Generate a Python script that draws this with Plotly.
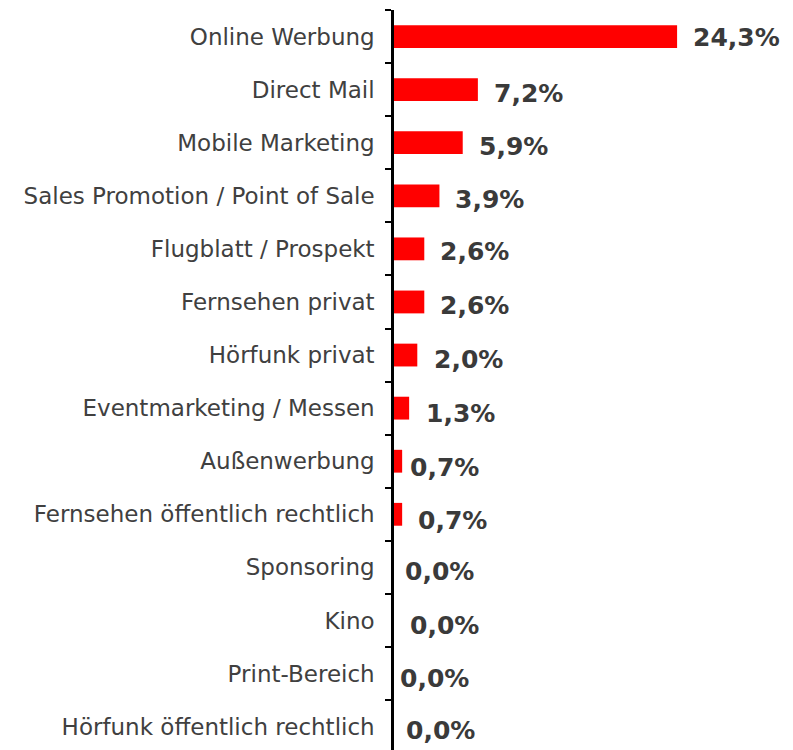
import plotly.graph_objects as go

categories = [
    "Online Werbung", "Direct Mail", "Mobile Marketing",
    "Sales Promotion / Point of Sale", "Flugblatt / Prospekt",
    "Fernsehen privat", "Hörfunk privat", "Eventmarketing / Messen",
    "Außenwerbung", "Fernsehen öffentlich rechtlich", "Sponsoring",
    "Kino", "Print-Bereich", "Hörfunk öffentlich rechtlich",
]
values = [24.3, 7.2, 5.9, 3.9, 2.6, 2.6, 2.0, 1.3, 0.7, 0.7, 0.0, 0.0, 0.0, 0.0]
value_labels = ["24,3%", "7,2%", "5,9%", "3,9%", "2,6%", "2,6%", "2,0%",
                "1,3%", "0,7%", "0,7%", "0,0%", "0,0%", "0,0%", "0,0%"]

# pixel nudges of the value labels (offset from bar end)
label_xshift = [14, 14, 14, 14, 14, 14, 15, 15, 6, 14, 9, 14, 4, 10]
label_yshift = [-1, -4, -4, -4, -3, -4, -4, -5, -6, -6, -4, -5, -5, -4]

fig = go.Figure()
fig.add_trace(go.Bar(
    x=values, y=categories, orientation="h",
    marker=dict(color="#ff0000", line=dict(width=0)),
    width=0.43, hoverinfo="skip",
))

for cat, v, lab, xs, ys in zip(categories, values, value_labels, label_xshift, label_yshift):
    fig.add_annotation(
        x=v, y=cat, text=lab, showarrow=False, xanchor="left", yanchor="middle",
        xshift=xs, yshift=ys,
        font=dict(family="DejaVu Sans", size=25, color="#3a3a3a", weight="bold"),
    )

# the page body adds an 8px offset, so the figure is sized 8px smaller
fig.update_layout(
    width=785, height=742,
    margin=dict(l=386, r=0, t=2, b=0, autoexpand=False),
    plot_bgcolor="white", paper_bgcolor="white",
    showlegend=False,
    font=dict(family="DejaVu Sans", size=23, color="#404040"),
    xaxis=dict(range=[0, 34.25], visible=False, showgrid=False, zeroline=False,
               automargin=False),
    yaxis=dict(
        type="category", range=[13.44, -0.5], automargin=False,
        showline=True, linecolor="black", linewidth=2.5,
        ticks="outside", ticklen=6, tickwidth=2, tickcolor="black",
        tickson="boundaries", ticklabelstandoff=12,
        showgrid=False, zeroline=False,
        tickfont=dict(family="DejaVu Sans", size=23, color="#404040"),
    ),
)

fig.write_html("out.html")
